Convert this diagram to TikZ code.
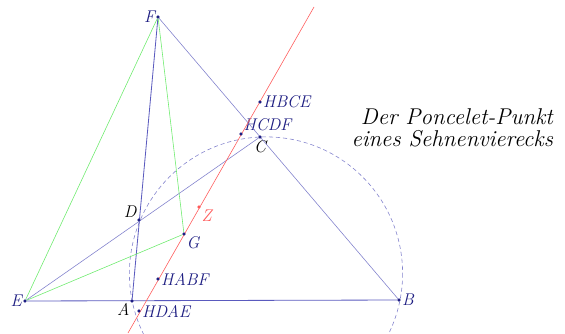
\documentclass[tikz,border=0pt]{standalone}
\usetikzlibrary{positioning}
\definecolor{navy}{RGB}{30,30,130}
\definecolor{linedark}{RGB}{90,90,190}
\definecolor{linelight}{RGB}{130,130,205}
\definecolor{greenline}{RGB}{110,235,110}
\definecolor{redline}{RGB}{255,90,90}

\begin{document}
\begin{tikzpicture}[
    x=0.03cm, y=-0.03cm,
    pt/.style={circle, fill=navy, inner sep=0pt, minimum size=2.6pt},
    lbl/.style={text=navy, font=\itshape\fontsize{14.5}{16}\selectfont, inner sep=1pt},
    blk/.style={lbl, text=black},
    darkline/.style={draw=linedark, line width=0.7pt},
    lightline/.style={draw=linelight, line width=0.5pt},
    greenedge/.style={draw=greenline, line width=0.5pt},
    simson/.style={draw=redline, line width=0.5pt}
  ]
    \clip (0,0) rectangle (565,333);

    % points of the figure
    \node[pt, label={[lbl]left:F}] (F) at (158,17) {};
    \node[pt, label={[lbl]left:E}] (E) at (25,301) {};
    \node[pt, label={[blk]below left:A}] (A) at (132,301) {};
    \node[pt, label={[lbl]right:B}] (B) at (399,300) {};
    \node[pt, label={[blk]below:C}] (C) at (260,137) {};
    \node[pt, label={[blk]above left:D}] (D) at (139,220) {};
    \node[pt, label={[lbl]below right:G}] (G) at (184,234) {};
    \node[pt, fill=redline, label={[lbl, text=redline]below right:Z}] (Z) at (199,207) {};
    \node[pt, label={[lbl]right:HBCE}] (HBCE) at (260,102) {};
    \node[pt, label={[lbl, anchor=south west]above right:HCDF}] (HCDF) at (241,134) {};
    \node[pt, label={[lbl]right:HABF}] (HABF) at (158,279) {};
    \node[pt, label={[lbl]right:HDAE}] (HDAE) at (139,311) {};
    \coordinate (low) at (128,333);
    \coordinate (high) at (314,7);

    % circumcircle
    \draw[draw=linelight, line width=0.5pt, dash pattern=on 3.5pt off 2.5pt] (266,273.5) circle (136.6);

    % sides
    \draw[darkline] (E) -- (B);
    \draw[darkline] (F) -- (A);
    \draw[lightline] (F) -- (B);
    \draw[lightline] (E) -- (C);
    \draw[greenedge] (E) -- (F) -- (G) -- (E);
    \draw[simson] (low) -- (high);

    % dots on top
    \foreach \p in {F,E,A,B,C,D,G,HBCE,HCDF,HABF,HDAE}
      \fill[navy] (\p) circle (1.3pt);
    \fill[redline] (Z) circle (1.3pt);

    \node[font=\itshape\fontsize{19.5}{19}\selectfont, align=right, anchor=east] (title) at (557,128)
      {Der Poncelet-Punkt\\eines Sehnenvierecks};
\end{tikzpicture}
\end{document}
